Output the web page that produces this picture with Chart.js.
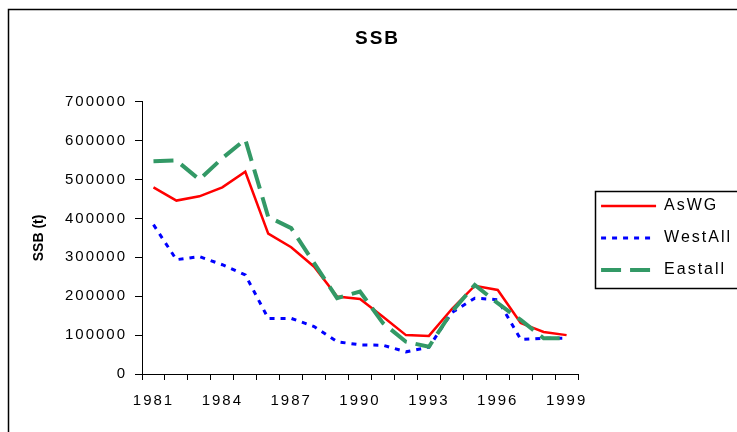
<!DOCTYPE html>
<html>
<head>
<meta charset="utf-8">
<script src="https://cdn.jsdelivr.net/npm/chart.js@4"></script>
<style>
html,body{margin:0;padding:0;background:#fff;}
#wrap{width:737px;height:432px;position:relative;overflow:hidden;}
</style>
</head>
<body>
<div id="wrap"><canvas id="c" width="737" height="432"></canvas></div>
<script>
const years = ['1981','1982','1983','1984','1985','1986','1987','1988','1989','1990','1991','1992','1993','1994','1995','1996','1997','1998','1999'];
const xTickLabels = ['1981','1984','1987','1990','1993','1996','1999'];
const asWG    = [480000,446000,457000,480000,520000,361000,326000,276000,199000,193000,147000,100000, 98000,167000,227000,216000,131000,108000,100000];
const westAll = [384000,294000,302000,281000,255000,143000,143000,122000, 83000, 75000, 74000, 57000, 69000,158000,195000,191000, 89000, 92000, 92000];
const eastAll = [547000,549000,500000,555000,603000,404000,375000,285000,195000,212000,131000, 83000, 70000,160000,229000,182000,139000, 92000, 92000];
const yMin = 0, yMax = 700000, yStep = 100000;

const FONT = "'Liberation Sans', Arial, sans-serif";
Chart.defaults.font.family = FONT;
Chart.defaults.color = '#000';

const spacingPlugin = {
  id: 'spacing',
  beforeUpdate(chart) { chart.ctx.letterSpacing = '2px'; },
  beforeDraw(chart) {
    chart.ctx.letterSpacing = '2px';
    const ctx = chart.ctx;
    ctx.save();
    ctx.strokeStyle = '#000';
    ctx.lineWidth = 1.5;
    ctx.beginPath();
    ctx.moveTo(8.5, 432);
    ctx.lineTo(8.5, 9.5);
    ctx.lineTo(737, 9.5);
    ctx.stroke();
    ctx.restore();
  },
  afterLayout(chart) {
    const L = chart.legend;
    if (L) { L.left += 7; L.right += 7; }
    const y = chart.scales.y;
    if (y && !y._wrappedTitle) {
      const orig = y.drawTitle.bind(y);
      y.drawTitle = function() {
        const ctx = chart.ctx;
        const prev = ctx.letterSpacing;
        ctx.letterSpacing = '0px';
        orig();
        ctx.letterSpacing = prev;
      };
      y._wrappedTitle = true;
    }
  },
  afterDraw(chart) {
    const L = chart.legend;
    if (!L) return;
    const ctx = chart.ctx;
    const c = (L.top + L.bottom) / 2;
    const x0 = L.left + 16 - 6;
    ctx.save();
    ctx.strokeStyle = '#000';
    ctx.lineWidth = 1.5;
    ctx.strokeRect(Math.round(x0) + 0.5, Math.round(c - 47) + 0.5, 200, 97);
    ctx.restore();
  }
};

new Chart(document.getElementById('c'), {
  type: 'line',
  data: {
    labels: years,
    datasets: [
      { label: 'AsWG', data: asWG, borderColor: '#FF0000', backgroundColor: '#FF0000', borderWidth: 2.5, borderDash: [], pointRadius: 0, tension: 0, fill: false, order: 3 },
      { label: 'WestAll', data: westAll, borderColor: '#0000FF', backgroundColor: '#0000FF', borderWidth: 3, borderDash: [5, 6], pointRadius: 0, tension: 0, fill: false, order: 2 },
      { label: 'Eastall', data: eastAll, borderColor: '#339966', backgroundColor: '#339966', borderWidth: 4, borderDash: [20, 9], pointRadius: 0, tension: 0, fill: false, order: 1 }
    ]
  },
  options: {
    responsive: false,
    devicePixelRatio: 1,
    animation: false,
    layout: { padding: { left: 20, right: 2, top: 0, bottom: 0 } },
    plugins: {
      title: {
        display: true, text: 'SSB', color: '#000',
        font: { family: FONT, size: 19, weight: 'bold' },
        padding: { top: 27, bottom: 52 }
      },
      legend: {
        position: 'right', align: 'center', fullSize: false,
        labels: {
          usePointStyle: true, pointStyle: 'line', pointStyleWidth: 55,
          padding: 16, color: '#000', font: { family: FONT, size: 16 },
          sort: (a, b) => a.datasetIndex - b.datasetIndex,
          generateLabels(chart) {
            const items = Chart.defaults.plugins.legend.labels.generateLabels(chart);
            items.forEach(it => {
              const ds = chart.data.datasets[it.datasetIndex];
              it.lineDash = ds.borderDash || [];
              it.lineWidth = ds.borderWidth;
              it.strokeStyle = ds.borderColor;
              it.fillStyle = ds.borderColor;
              it.pointStyle = 'line';
              it.lineCap = 'butt';
            });
            return items;
          }
        }
      },
      tooltip: { enabled: false }
    },
    scales: {
      x: {
        type: 'category', offset: true,
        grid: { display: true, drawOnChartArea: false, drawTicks: true, tickLength: 6, color: '#000', offset: true },
        border: { display: true, color: '#000', width: 1 },
        ticks: {
          autoSkip: false, maxRotation: 0, minRotation: 0, color: '#000', padding: 12,
          font: { family: FONT, size: 15 },
          callback: function(v) { const l = this.getLabelForValue(v); return xTickLabels.includes(l) ? l : ''; }
        },
        afterFit(s) { s.height = 58; }
      },
      y: {
        min: yMin, max: yMax,
        grid: { display: true, drawOnChartArea: false, drawTicks: true, tickLength: 7, color: '#000' },
        border: { display: true, color: '#000', width: 1 },
        ticks: { stepSize: yStep, padding: 8, color: '#000', font: { family: FONT, size: 15 }, callback: v => String(v) },
        title: { display: true, text: 'SSB (t)', color: '#000', font: { family: FONT, size: 14, weight: 'bold' }, padding: { top: 11, bottom: 0 } },
        afterFit(s) { s.width = 122; }
      }
    }
  },
  plugins: [spacingPlugin]
});
</script>
</body>
</html>
